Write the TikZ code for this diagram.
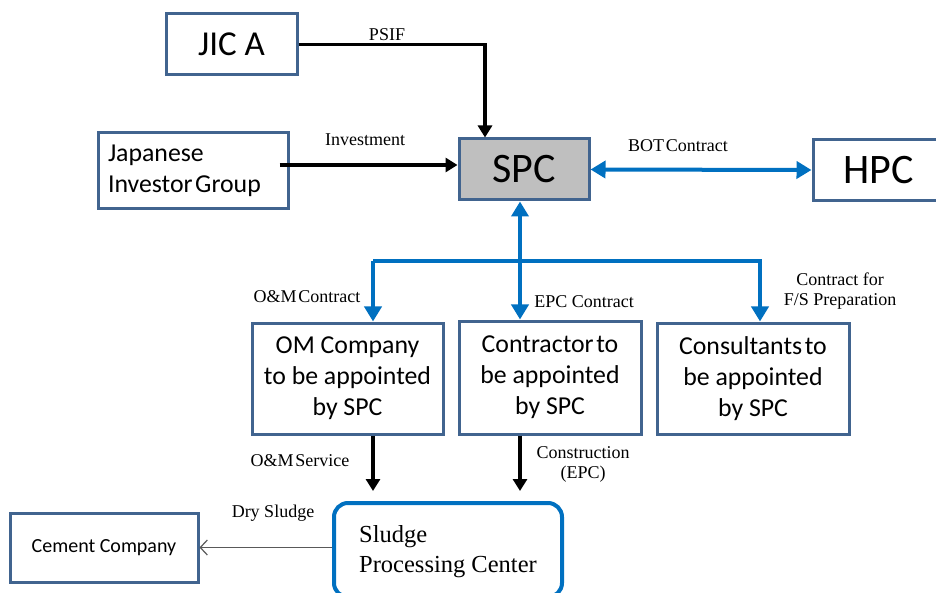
\documentclass[tikz,border=0pt]{standalone}
\usepackage{fontspec}
\setmainfont{Liberation Serif}
\newfontfamily\boxfont{Carlito}
\usetikzlibrary{arrows.meta}

\definecolor{boxline}{HTML}{41648F}
\definecolor{linkblue}{HTML}{0070C0}
\definecolor{spcfill}{HTML}{BFBFBF}
\definecolor{thingray}{HTML}{595959}

\tikzset{
  party/.style={draw=boxline, line width=3pt, fill=white, inner sep=0pt,
    align=center, font=\boxfont\fontsize{25.8}{31}\selectfont},
  lbl/.style={inner sep=0pt, align=center, font=\fontsize{18}{20}\selectfont},
  bluelink/.style={draw=linkblue, line width=4pt, line join=miter,
    -{Triangle[length=15pt,width=17pt]}},
  bluetwo/.style={draw=linkblue, line width=4pt,
    {Triangle[length=15pt,width=17pt]}-{Triangle[length=15pt,width=17pt]}},
  blacklink/.style={draw=black, line width=3.2pt, line join=miter,
    -{Triangle[length=12pt,width=14pt]}},
  thinlink/.style={draw=thingray, line width=1.2pt,
    -{Straight Barb[length=7pt,width=15pt]}}
}

\begin{document}
\begin{tikzpicture}[x=1pt,y=-1pt]
\useasboundingbox (0,0) rectangle (936,593);

% parties
\node[party, minimum width=131pt, minimum height=61pt,
      font=\boxfont\fontsize{35}{40}\selectfont] (jica) at (231.5,44.5) {JIC A};
\node[party, minimum width=190pt, minimum height=76pt, text width=170pt,
      align=left] (jig) at (193,171) {Japanese\\Investor\hspace{0.1em}Group};
\node[party, fill=spcfill, minimum width=130pt, minimum height=61pt,
      font=\boxfont\fontsize{42}{46}\selectfont] (spc) at (524,169.5) {SPC};
\node[party, minimum width=131pt, minimum height=61pt,
      font=\boxfont\fontsize{42}{46}\selectfont] (hpc) at (878.5,170) {HPC};

\node[party, minimum width=191pt, minimum height=111pt] (om) at (347.5,378.5)
  {OM Company\\to be appointed\\by SPC};
\node[party, minimum width=182pt, minimum height=113pt] (con) at (550,377.5)
  {Contractor\hspace{0.1em}to\\be appointed\\by SPC};
\node[party, minimum width=192pt, minimum height=111pt] (cons) at (753,378.5)
  {Consultants\hspace{0.1em}to\\be appointed\\by SPC};

\node[draw=linkblue, line width=4pt, rounded corners=14pt, fill=white,
      minimum width=228pt, minimum height=94pt, inner sep=0pt] (sludge) at (448,550) {};
\node[anchor=west, inner sep=0pt, align=left,
      font=\fontsize{24.5}{30}\selectfont] (sludgetxt) at (359,552)
  {Sludge\\Processing Center};

\node[party, minimum width=188pt, minimum height=69pt,
      font=\boxfont\fontsize{20}{24}\selectfont] (cement) at (104,547.5) {Cement Company};

% junction points of the contract lines
\coordinate (vx) at ([xshift=-4pt]spc.south);
\coordinate (busL) at (373,261);
\coordinate (busR) at (760,261);

% funding links
\draw[blacklink] (jica.east) -| ([xshift=-39pt]spc.north);
\coordinate (invstart) at ([xshift=-10pt,yshift=6pt]jig.east);
\draw[blacklink] (invstart) -- (invstart -| spc.west);

% contracts
\draw[bluetwo] (spc.east) -- (hpc.west);
\draw[bluetwo] (vx) -- (vx |- con.north);
\draw[bluelink] (busL) -- (busR) -- (busR |- cons.north);
\draw[bluelink] (busL) -- (busL |- om.north);

% services to the processing center
\draw[blacklink, shorten >=10pt] (busL |- om.south) -- (busL |- sludge.north);
\draw[blacklink, shorten >=10pt] (vx |- con.south) -- (vx |- sludge.north);

% product
\draw[thinlink] (sludge.west |- cement.east) -- (cement.east);

% labels
\node[lbl] (lpsif) at (387,35) {PSIF};
\node[lbl] (linv) at (365,140) {Investment};
\node[lbl] (lbot) at (678,146) {BOT\hspace{0.1em}Contract};
\node[lbl] (lom) at (307,297) {O\&M\hspace{0.1em}Contract};
\node[lbl] (lepc) at (584,302) {EPC Contract};
\node[lbl] (lfs) at (840,291) {Contract for\\F/S Preparation};
\node[lbl] (loms) at (300,461) {O\&M\hspace{0.1em}Service};
\node[lbl] (lcons) at (583,464) {Construction\\(EPC)};
\node[lbl] (ldry) at (273,513) {Dry Sludge};
\end{tikzpicture}
\end{document}
